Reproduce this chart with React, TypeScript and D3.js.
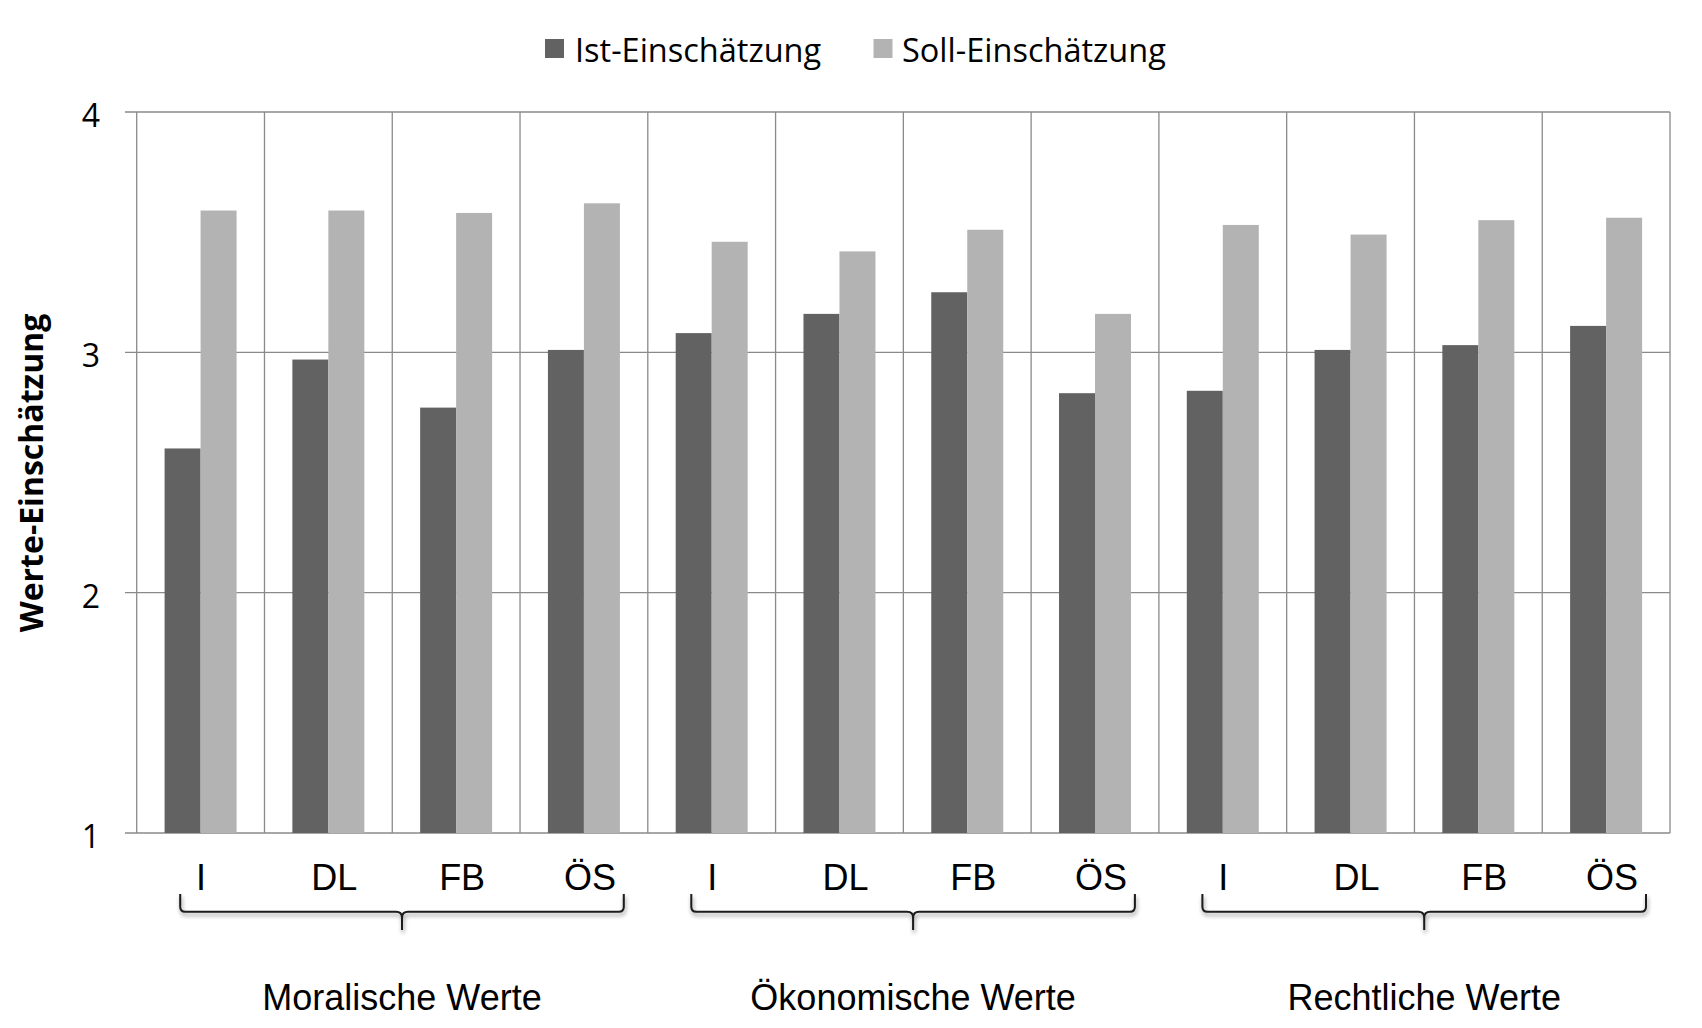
import React from "react";
import * as d3 from "d3";

const groups = ["Moralische Werte", "Ökonomische Werte", "Rechtliche Werte"];
const subCategories = ["I", "DL", "FB", "ÖS"];
const seriesNames = ["Ist-Einschätzung", "Soll-Einschätzung"];
const istValues = [2.6, 2.97, 2.77, 3.01, 3.08, 3.16, 3.25, 2.83, 2.84, 3.01, 3.03, 3.11];
const sollValues = [3.59, 3.59, 3.58, 3.62, 3.46, 3.42, 3.51, 3.16, 3.53, 3.49, 3.55, 3.56];
const yTicks = [1, 2, 3, 4];
const yTitle = "Werte-Einschätzung";

const W = 1702;
const H = 1028;
const plot = { left: 136.7, right: 1670, top: 112, bottom: 833 };
const colors = ["#626262", "#b3b3b3"];
const gridColor = "#8a8a8a";
const labelOffset: Record<string, number> = { I: 0.5, DL: 6, FB: 6, "ÖS": 6 };

export default function App() {
  const cats = groups.flatMap((g, gi) => subCategories.map((s, si) => ({ g, gi, s, i: gi * subCategories.length + si })));
  const x = d3.scaleBand<number>().domain(cats.map((c) => c.i)).range([plot.left, plot.right]).padding(0);
  const y = d3.scaleLinear().domain([1, 4]).range([plot.bottom, plot.top]);
  const step = x.bandwidth();
  const barW = step * 0.2817;
  const series = [istValues, sollValues];

  const bracketPath = (l: number, r: number) => {
    const top = 894;
    const mid = 911.7;
    const tipY = 930;
    const c = (l + r) / 2;
    return [
      `M${l},${top}`,
      `L${l},${mid - 5}`,
      `Q${l},${mid} ${l + 5},${mid}`,
      `L${c - 6},${mid}`,
      `Q${c},${mid} ${c},${mid + 6}`,
      `L${c},${tipY}`,
      `M${c},${mid + 6}`,
      `Q${c},${mid} ${c + 6},${mid}`,
      `L${r - 5},${mid}`,
      `Q${r},${mid} ${r},${mid - 5}`,
      `L${r},${top}`,
    ].join(" ");
  };

  return (
    <svg width={W} height={H} style={{ position: "absolute", left: 0, top: 0, background: "#fff" }}>
      <defs>
        <filter id="shadow" x="-5%" y="-50%" width="110%" height="200%">
          <feGaussianBlur in="SourceAlpha" stdDeviation="2" />
          <feOffset dx="1" dy="3" result="ob" />
          <feComponentTransfer>
            <feFuncA type="linear" slope="0.45" />
          </feComponentTransfer>
          <feMerge>
            <feMergeNode />
            <feMergeNode in="SourceGraphic" />
          </feMerge>
        </filter>
      </defs>

      {/* legend */}
      <g fontFamily="'Open Sans', sans-serif" fontSize={32.5} fill="#000">
        <rect x={545} y={39} width={19} height={19} fill={colors[0]} />
        <text x={575} y={61.5}>{seriesNames[0]}</text>
        <rect x={873.5} y={39} width={19} height={19} fill={colors[1]} />
        <text x={902} y={61.5}>{seriesNames[1]}</text>
      </g>

      {/* horizontal gridlines + ticks */}
      {yTicks.map((t) => (
        <line key={"h" + t} x1={125} x2={plot.right} y1={y(t)} y2={y(t)} stroke={gridColor} strokeWidth={1.3} />
      ))}
      {/* vertical gridlines */}
      {d3.range(cats.length + 1).map((k) => {
        const xx = plot.left + k * step;
        return <line key={"v" + k} x1={xx} x2={xx} y1={plot.top} y2={plot.bottom} stroke={gridColor} strokeWidth={1.3} />;
      })}

      {/* bars */}
      {series.map((vals, si) =>
        cats.map((c) => {
          const cx = (x(c.i) as number) + step / 2;
          const bx = cx - barW + si * barW;
          return (
            <rect
              key={si + "-" + c.i}
              x={bx}
              y={y(vals[c.i])}
              width={barW}
              height={y(1) - y(vals[c.i])}
              fill={colors[si]}
            />
          );
        })
      )}

      {/* y tick labels */}
      <g fontFamily="'Open Sans', sans-serif" fontSize={32} fill="#000" textAnchor="end">
        {yTicks.map((t) => (
          <text key={"yl" + t} x={100} y={y(t) + 15}>
            {t}
          </text>
        ))}
      </g>

      {/* y title */}
      <text
        transform={`translate(43,473) rotate(-90)`}
        textAnchor="middle"
        fontFamily="'Open Sans', sans-serif"
        fontWeight="bold"
        fontSize={32}
        fill="#000"
      >
        {yTitle}
      </text>

      {/* category labels */}
      <g fontFamily="'Liberation Sans', Arial, sans-serif" fontSize={36} fill="#000" textAnchor="middle">
        {cats.map((c) => (
          <text key={"cl" + c.i} x={(x(c.i) as number) + step / 2 + labelOffset[c.s]} y={890}>
            {c.s}
          </text>
        ))}
      </g>

      {/* brackets and group labels */}
      {groups.map((g, gi) => {
        const first = gi * subCategories.length;
        const last = first + subCategories.length - 1;
        const l = (x(first) as number) + 43.5;
        const r = (x(last) as number) + step - 24;
        const c = (l + r) / 2;
        return (
          <g key={"g" + gi}>
            <path d={bracketPath(l, r)} fill="none" stroke="#1a1a1a" strokeWidth={2} filter="url(#shadow)" />
            <text
              x={c}
              y={1010}
              textAnchor="middle"
              fontFamily="'Liberation Sans', Arial, sans-serif"
              fontSize={36}
              fill="#000"
            >
              {g}
            </text>
          </g>
        );
      })}
    </svg>
  );
}
